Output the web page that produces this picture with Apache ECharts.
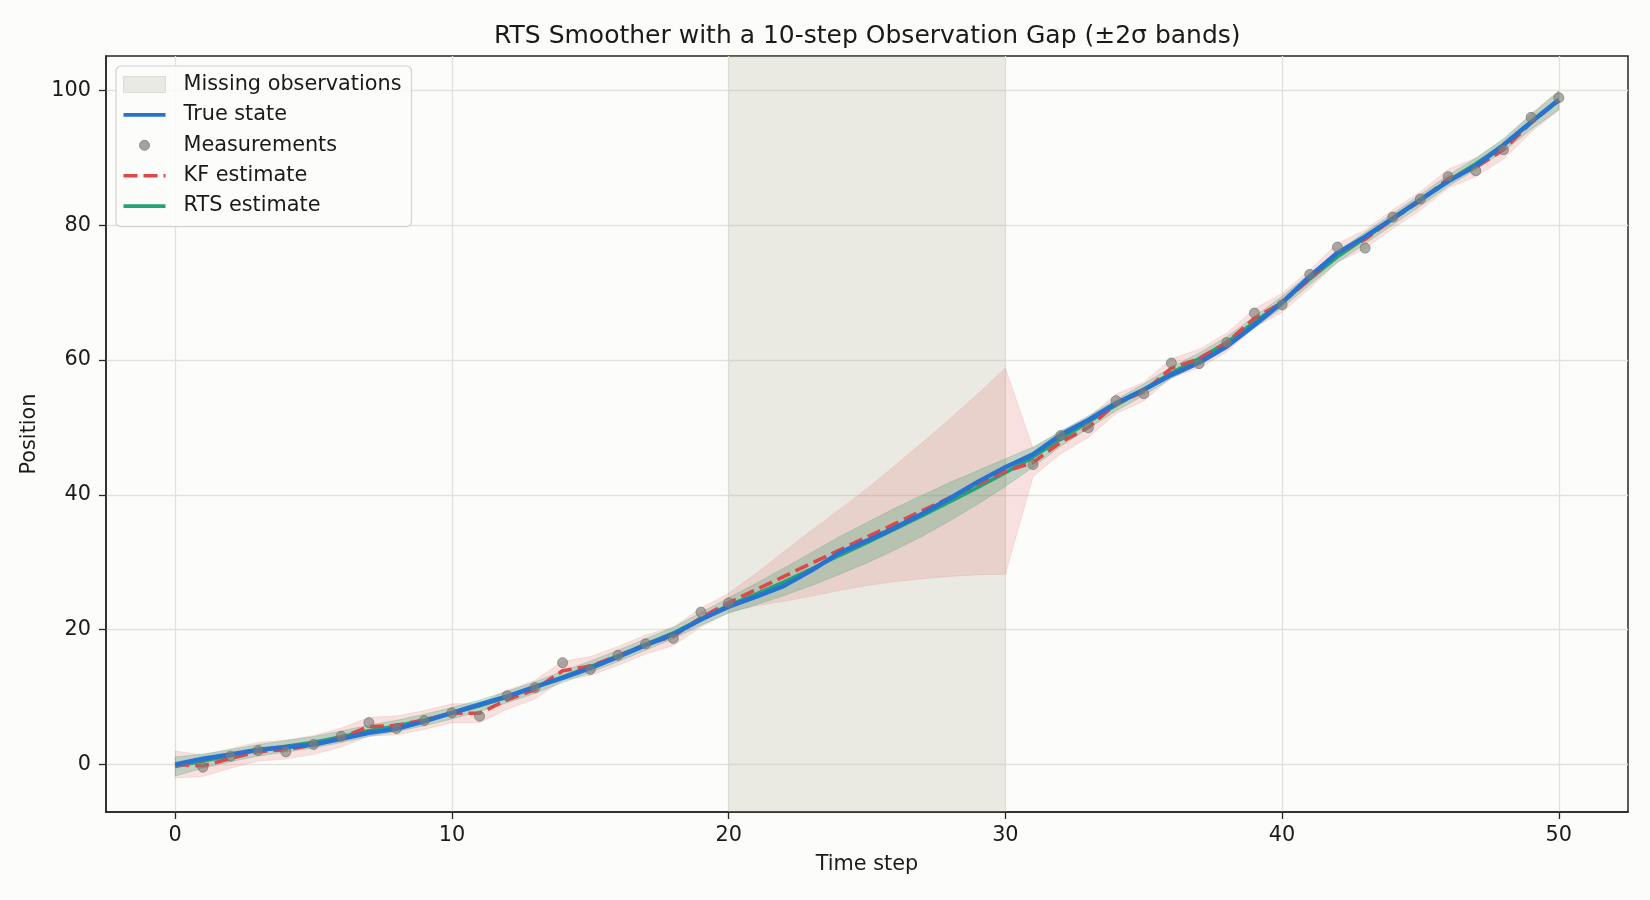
<!DOCTYPE html>
<html>
<head>
<meta charset="utf-8">
<script src="https://cdn.jsdelivr.net/npm/echarts@6/dist/echarts.min.js"></script>
<style>
  html, body { margin: 0; padding: 0; background: #fcfcfa; }
  #chart { width: 1650px; height: 900px; }
</style>
</head>
<body>
<div id="chart"></div>
<script>
// time axis
const timeSteps = [0,1,2,3,4,5,6,7,8,9,10,11,12,13,14,15,16,17,18,19,20,21,22,23,24,25,26,27,28,29,30,31,32,33,34,35,36,37,38,39,40,41,42,43,44,45,46,47,48,49,50];

// true position
const trueState = [0,0.84,1.48,2.2,2.57,2.97,3.8,4.7,5.3,6.4,7.66,8.9,10.1,11.5,12.85,14.3,15.96,17.7,19.3,21.5,23.4,
  24.9,26.5,28.8,31.4,33.2,35.1,37.2,39.5,41.9,44.1,
  46.0,48.9,51.1,53.6,55.6,57.8,59.6,62.0,65.2,68.5,72.4,75.9,78.3,81.0,83.8,86.5,88.8,91.9,95.3,98.6];

// noisy measurements (none during the gap 21..30)
const measSteps = [1,2,3,4,5,6,7,8,9,10,11,12,13,14,15,16,17,18,19,20,31,32,33,34,35,36,37,38,39,40,41,42,43,44,45,46,47,48,49,50];
const measValues = [-0.4,1.23,2.07,1.88,2.97,4.2,6.2,5.34,6.52,7.66,7.16,10.2,11.4,15.1,14.1,16.2,17.9,18.7,22.6,23.97,
  44.5,48.8,49.95,53.97,55.0,59.55,59.45,62.6,66.97,68.2,72.7,76.75,76.6,81.2,83.9,87.2,88.07,91.2,96.0,98.9];

// Kalman filter mean and 2-sigma half width
const kfMean = [0.0,-0.2,0.9,1.9,2.2,2.9,4.0,5.6,5.8,6.6,7.6,7.6,9.6,11.1,13.9,14.6,16.1,17.8,19.0,21.8,24.0,
  25.95,27.9,29.85,31.8,33.75,35.7,37.65,39.6,41.55,43.5,
  44.8,47.8,50.0,53.5,55.3,58.8,60.2,62.6,66.2,68.5,72.0,75.9,77.9,80.9,83.6,86.9,88.6,91.2,95.2,98.5];
const kfHalf = [2.0,1.6,1.45,1.4,1.4,1.4,1.4,1.4,1.4,1.4,1.4,1.4,1.4,1.4,1.4,1.4,1.4,1.4,1.4,1.4,1.4,
  2.4,3.7,4.9,6.0,7.2,8.6,10.1,11.7,13.4,15.3,
  2.1,1.7,1.5,1.45,1.4,1.4,1.4,1.4,1.4,1.4,1.4,1.4,1.4,1.4,1.4,1.4,1.4,1.4,1.4,1.45];

// RTS smoother mean and 2-sigma half width
const rtsMean = [-0.3,0.5,1.3,2.1,2.7,3.3,4.1,5.0,5.7,6.6,7.6,8.7,10.0,11.4,13.0,14.5,16.1,17.8,19.5,21.6,23.6,
  25.3,27.1,29.0,31.0,32.9,34.9,36.9,39.0,41.1,43.3,
  45.6,48.3,50.8,53.3,55.6,58.1,60.2,62.6,65.6,68.6,72.0,75.3,78.1,80.9,83.7,86.6,89.1,91.9,95.3,98.5];
const rtsHalf = [1.4,1.05,0.9,0.85,0.85,0.85,0.85,0.85,0.85,0.85,0.85,0.85,0.85,0.85,0.85,0.85,0.85,0.85,0.85,0.95,1.15,
  1.6,2.05,2.45,2.8,3.0,3.1,3.05,2.85,2.5,2.05,
  1.5,1.1,0.95,0.85,0.85,0.85,0.85,0.85,0.85,0.85,0.85,0.85,0.85,0.85,0.85,0.85,0.85,0.95,1.1,1.4];

const gapRange = [20, 30];
const xTicks = [0, 10, 20, 30, 40, 50];
const yTicks = [0, 20, 40, 60, 80, 100];

const FONT = 'DejaVu Sans';
const pair = (ys) => timeSteps.map((t, i) => [t, ys[i]]);
const bandRows = (m, h) => timeSteps.map((t, i) => [t, m[i] - h[i], m[i] + h[i]]);

// one polygon for a ±2σ band, drawn through the axis scales
function bandSeries(name, rows, fill, stroke, z) {
  return {
    name: name, type: 'custom', silent: true, z: z,
    data: rows,
    encode: { x: 0, y: [1, 2] },
    renderItem: function (params, api) {
      if (params.dataIndex !== 0) return null;
      const upper = rows.map(r => api.coord([r[0], r[2]]));
      const lower = rows.map(r => api.coord([r[0], r[1]])).reverse();
      return {
        type: 'polygon',
        shape: { points: upper.concat(lower) },
        style: { fill: fill, stroke: stroke, lineWidth: 1 }
      };
    }
  };
}

// legend icons: drawn in the left 42px of a 55px wide box, so the label sits further right
const ICON_RECT = 'path://M0,0H42V16H0ZM55,0M55,16';
const ICON_LINE = 'path://M0,6.2H42V9.8H0ZM0,0M55,16';
const ICON_DASH = 'path://M0,6.2H14V9.8H0ZM20,6.2H34V9.8H20ZM40,6.2H42V9.8H40ZM0,0M55,16';
const ICON_DOT = 'path://M26,8A5,5,0,1,1,16,8A5,5,0,1,1,26,8ZM0,0M55,16';

const chart = echarts.init(document.getElementById('chart'));

const option = {
  backgroundColor: '#fcfcfa',
  animation: false,
  textStyle: { fontFamily: FONT, color: '#1a1a1a' },
  title: {
    text: 'RTS Smoother with a 10-step Observation Gap (±2σ bands)',
    left: 494,
    top: 24,
    padding: 0,
    textStyle: { fontFamily: FONT, fontSize: 25, fontWeight: 'normal', color: '#1a1a1a' }
  },
  grid: {
    left: 106, right: 22, top: 56, bottom: 88,
    show: true, borderColor: '#262626', borderWidth: 1.5, backgroundColor: 'transparent'
  },
  legend: {
    orient: 'vertical',
    left: 116, top: 66,
    padding: [8, 10, 10, 7],
    itemWidth: 55, itemHeight: 16, itemGap: 9.4,
    backgroundColor: 'rgba(252,252,250,0.85)',
    borderColor: '#d2d2d0', borderWidth: 1.2, borderRadius: 5,
    textStyle: { fontFamily: FONT, fontSize: 20.8, color: '#1a1a1a', lineHeight: 18 },
    data: [
      { name: 'Missing observations', icon: ICON_RECT, itemStyle: { color: '#eaeae4', borderColor: '#dcdcd4', borderWidth: 1 } },
      { name: 'True state', icon: ICON_LINE, itemStyle: { color: '#2673d2' } },
      { name: 'Measurements', icon: ICON_DOT, itemStyle: { color: '#8d8d88', borderColor: '#7e7e79', borderWidth: 1 } },
      { name: 'KF estimate', icon: ICON_DASH, itemStyle: { color: '#de4848' } },
      { name: 'RTS estimate', icon: ICON_LINE, itemStyle: { color: '#22a474' } }
    ]
  },
  xAxis: {
    type: 'value', min: -2.5, max: 52.5,
    name: 'Time step', nameLocation: 'middle', nameGap: 42,
    nameTextStyle: { fontFamily: FONT, fontSize: 20.8, color: '#1a1a1a' },
    axisLine: { show: true, onZero: false, lineStyle: { color: '#262626', width: 1.5 } },
    axisTick: { show: true, inside: false, length: 7, lineStyle: { color: '#262626', width: 1.3 }, customValues: xTicks },
    axisLabel: { fontFamily: FONT, fontSize: 20.8, color: '#1a1a1a', margin: 13, customValues: xTicks },
    splitLine: { show: true, lineStyle: { color: '#e2e2dc', width: 1.3 } }
  },
  yAxis: {
    type: 'value', min: -7.05, max: 105.1,
    name: 'Position', nameLocation: 'middle', nameGap: 57, nameRotate: 90,
    nameTextStyle: { fontFamily: FONT, fontSize: 20.8, color: '#1a1a1a' },
    axisLine: { show: true, onZero: false, lineStyle: { color: '#262626', width: 1.5 } },
    axisTick: { show: true, inside: false, length: 7, lineStyle: { color: '#262626', width: 1.3 }, customValues: yTicks },
    axisLabel: { fontFamily: FONT, fontSize: 20.8, color: '#1a1a1a', margin: 15, customValues: yTicks },
    splitLine: { show: true, lineStyle: { color: '#e2e2dc', width: 1.3 } }
  },
  series: [
    {
      name: 'Missing observations', type: 'line', data: [], color: '#eaeae4', silent: true, z: 1,
      markArea: {
        silent: true,
        itemStyle: { color: 'rgba(180,180,160,0.25)' },
        data: [[{ xAxis: gapRange[0] }, { xAxis: gapRange[1] }]]
      }
    },
    bandSeries('KF band', bandRows(kfMean, kfHalf), 'rgba(224,70,70,0.15)', 'rgba(224,70,70,0.12)', 2),
    bandSeries('RTS band', bandRows(rtsMean, rtsHalf), 'rgba(34,150,100,0.25)', 'rgba(34,150,100,0.2)', 3),
    {
      name: 'RTS estimate', type: 'line', symbol: 'none', z: 4,
      color: '#22a474',
      lineStyle: { color: '#22a474', width: 3.6 },
      data: pair(rtsMean)
    },
    {
      name: 'KF estimate', type: 'line', symbol: 'none', z: 5,
      color: '#de4848',
      lineStyle: { color: '#de4848', width: 3.6, type: [14, 6] },
      data: pair(kfMean)
    },
    {
      name: 'True state', type: 'line', symbol: 'none', z: 6,
      color: '#2673d2',
      lineStyle: { color: '#2673d2', width: 4.5 },
      data: pair(trueState)
    },
    {
      name: 'Measurements', type: 'scatter', symbol: 'circle', symbolSize: 10, z: 7,
      color: '#8d8d88',
      itemStyle: { color: 'rgba(128,128,122,0.8)', borderColor: 'rgba(110,110,105,0.8)', borderWidth: 1 },
      data: measSteps.map((t, i) => [t, measValues[i]])
    }
  ]
};

chart.setOption(option);
</script>
</body>
</html>
